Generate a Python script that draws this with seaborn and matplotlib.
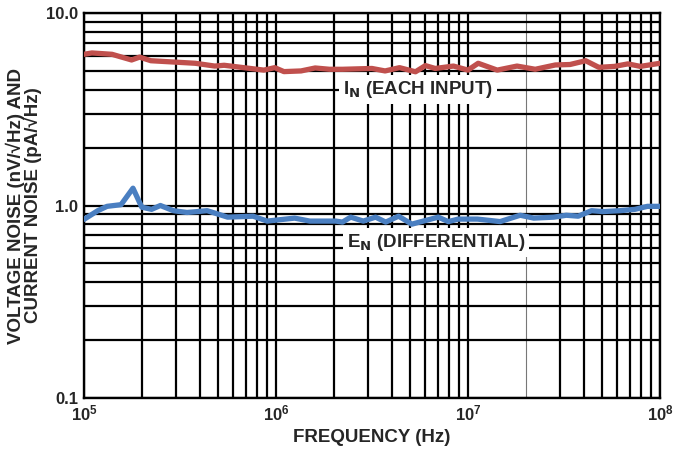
import numpy as np
import pandas as pd
from matplotlib import pyplot as plt
from matplotlib.ticker import LogLocator, NullFormatter, FixedLocator
import seaborn as sns

sns.set_style("white")
plt.rcParams['font.family'] = ['Liberation Sans', 'DejaVu Sans']
plt.rcParams['font.weight'] = 'bold'
plt.rcParams['mathtext.default'] = 'regular'

# Current noise (pA/rtHz), each input
in_freq = [1.00e5, 1.10e5, 1.40e5, 1.77e5, 1.95e5, 2.23e5, 2.60e5, 3.80e5, 4.80e5,
           5.37e5, 8.65e5, 9.85e5, 1.10e6, 1.35e6, 1.60e6, 1.90e6, 2.22e6, 3.16e6,
           3.70e6, 4.40e6, 5.33e6, 6.00e6, 6.75e6, 8.40e6, 1.00e7, 1.13e7, 1.42e7,
           1.80e7, 2.24e7, 2.85e7, 3.40e7, 4.10e7, 4.80e7, 5.80e7, 6.80e7, 7.90e7,
           1.00e8]
in_val = [6.1, 6.2, 6.1, 5.7, 5.9, 5.65, 5.6, 5.48, 5.3, 5.35, 5.05, 5.2, 4.96,
          5.0, 5.18, 5.1, 5.1, 5.15, 5.0, 5.2, 4.95, 5.33, 5.15, 5.3, 5.05, 5.48,
          5.05, 5.3, 5.1, 5.37, 5.4, 5.65, 5.22, 5.28, 5.44, 5.28, 5.48]

# Voltage noise (nV/rtHz), differential
en_freq = [1.00e5, 1.18e5, 1.32e5, 1.56e5, 1.80e5, 2.00e5, 2.25e5, 2.50e5, 2.92e5,
           3.44e5, 3.90e5, 4.38e5, 5.60e5, 7.60e5, 9.00e5, 1.25e6, 1.50e6, 2.05e6,
           2.22e6, 2.45e6, 2.85e6, 3.30e6, 3.73e6, 4.35e6, 5.10e6, 5.85e6, 7.00e6,
           7.90e6, 8.90e6, 1.12e7, 1.47e7, 1.87e7, 2.20e7, 2.80e7, 3.25e7, 3.75e7,
           4.40e7, 5.05e7, 6.20e7, 7.40e7, 8.60e7, 1.00e8]
en_val = [0.847, 0.94, 0.99, 1.01, 1.23, 0.98, 0.955, 1.0, 0.94, 0.92, 0.93, 0.94,
          0.87, 0.88, 0.83, 0.86, 0.83, 0.83, 0.82, 0.87, 0.83, 0.87, 0.82, 0.88,
          0.80, 0.83, 0.87, 0.825, 0.85, 0.85, 0.825, 0.89, 0.86, 0.87, 0.89, 0.88,
          0.94, 0.93, 0.94, 0.955, 0.99, 0.99]

df = pd.concat([
    pd.DataFrame({'freq': in_freq, 'noise': in_val, 'series': 'in'}),
    pd.DataFrame({'freq': en_freq, 'noise': en_val, 'series': 'en'}),
])

fig = plt.figure(figsize=(6.86, 4.54), dpi=100)
ax = fig.add_axes([0.1224, 0.1233, 0.8397, 0.8481])

ax.set_xscale('log')
ax.set_yscale('log')
sns.lineplot(data=df, x='freq', y='noise', hue='series',
             palette={'in': '#c0504d', 'en': '#4a7fc1'}, linewidth=3.8,
             legend=False, ax=ax, zorder=3, estimator=None, sort=False)
ax.set_xlim(1e5, 1e8)
ax.set_ylim(0.1, 10)

ax.xaxis.set_major_locator(FixedLocator([1e5, 1e6, 1e7, 1e8]))
ax.xaxis.set_minor_locator(LogLocator(base=10, subs=np.arange(2, 10)))
ax.xaxis.set_minor_formatter(NullFormatter())
ax.yaxis.set_major_locator(FixedLocator([0.1, 1.0, 10.0]))
ax.yaxis.set_minor_locator(LogLocator(base=10, subs=np.arange(2, 10)))
ax.yaxis.set_minor_formatter(NullFormatter())
ax.set_yticklabels(['0.1', '1.0', '10.0'])
ax.set_xticklabels([r'10$^{5}$', r'10$^{6}$', r'10$^{7}$', r'10$^{8}$'])

ax.grid(True, which='both', color='black', linewidth=1.6)
ax.tick_params(which='both', length=0, labelsize=12, pad=4)
for lab in ax.get_xticklabels() + ax.get_yticklabels():
    lab.set_fontweight('bold')
# the 2e7 line is drawn thin and grey in the original
for t in ax.xaxis.get_minor_ticks():
    if abs(t.get_loc() - 2e7) < 1:
        t.gridline.set_color('#777777')
        t.gridline.set_linewidth(0.8)

for s in ax.spines.values():
    s.set_color('black')
    s.set_linewidth(1.7)

ax.set_xlabel('FREQUENCY (Hz)', fontsize=13.5, fontweight='bold', labelpad=4)
ax.set_ylabel('VOLTAGE NOISE (nV/\u221aHz) AND\nCURRENT NOISE (pA/\u221aHz)',
              fontsize=13.5, fontweight='bold', linespacing=0.85)
ax.yaxis.set_label_coords(-0.073, 0.5)

box = dict(facecolor='white', edgecolor='none', pad=3)
ax.text(5.5e6, 4.0, r'I$_\mathbf{N}$ (EACH INPUT)', ha='center', va='center',
        fontsize=13.5, fontweight='bold', bbox=box, zorder=4)
ax.text(6.8e6, 0.64, r'E$_\mathbf{N}$ (DIFFERENTIAL)', ha='center', va='center',
        fontsize=13.5, fontweight='bold', bbox=box, zorder=4)

fig.savefig('out.png', dpi=100)
